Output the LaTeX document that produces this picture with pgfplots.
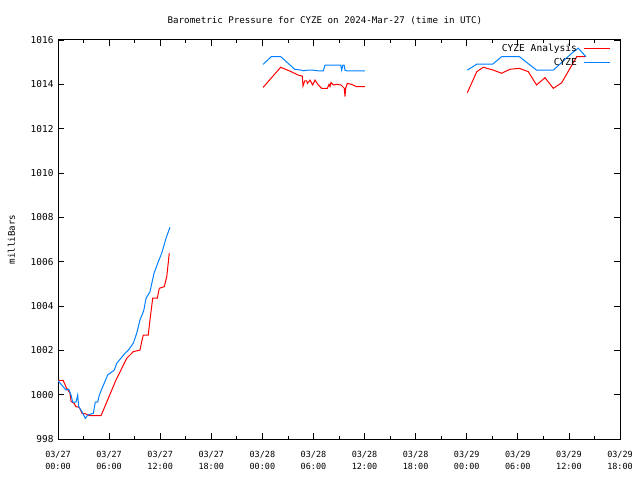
\documentclass[border=0pt]{standalone}
\usepackage{pgfplots}
\pgfplotsset{compat=1.18}
\usepackage{pgfplotstable}
\usepackage{fontspec}
\setmainfont{DejaVu Sans Mono}
\definecolor{anared}{RGB}{255,0,0}
\definecolor{obsblue}{RGB}{0,128,255}

\pgfplotstableread{
h v
0 1000.65
0.6 1000.65
1.0 1000.3
1.41 1000.07
1.53 999.7
1.91 999.6
2.11 999.46
2.50 999.43
2.82 999.16
3.29 999.13
3.68 999.05
5.05 999.05
6.81 1000.66
8.07 1001.64
8.84 1001.94
9.63 1002.01
9.83 1002.39
10.02 1002.69
10.6 1002.69
10.8 1003.37
10.95 1003.82
11.12 1004.35
11.66 1004.35
11.9 1004.8
12.48 1004.87
12.77 1005.32
13.07 1006.38
18 nan
24.08 1013.86
26.15 1014.77
27.39 1014.57
28.18 1014.42
28.69 1014.37
28.77 1013.92
28.97 1014.16
29.2 1014.16
29.28 1014.04
29.6 1014.19
29.91 1013.97
30.18 1014.19
30.57 1013.97
30.97 1013.82
31.63 1013.82
31.83 1014.0
31.94 1013.9
32.06 1014.08
32.33 1013.97
32.73 1014.0
33.24 1013.97
33.62 1013.82
33.7 1013.45
33.78 1013.82
33.97 1014.04
34.49 1014.0
35.0 1013.9
36.05 1013.9
42 nan
48.07 1013.62
49.18 1014.57
49.95 1014.77
51.13 1014.64
52.1 1014.5
53.08 1014.68
54.18 1014.72
55.23 1014.57
56.2 1013.97
57.19 1014.3
58.17 1013.82
59.15 1014.07
60.13 1014.72
60.92 1015.25
62.0 1015.25
}\anatable

\pgfplotstableread{
h v
0 1000.63
0.94 1000.21
1.26 1000.25
1.53 999.98
1.73 999.66
2.11 999.66
2.31 999.98
2.43 999.46
2.82 999.23
3.21 998.93
3.49 999.08
4.15 999.16
4.38 999.66
4.66 999.66
4.85 999.98
5.25 1000.36
5.84 1000.89
6.61 1001.11
6.89 1001.41
7.87 1001.87
8.26 1002.01
8.84 1002.32
9.24 1002.77
9.63 1003.37
9.95 1003.67
10.1 1003.85
10.34 1004.35
10.8 1004.64
11.27 1005.47
11.78 1006.0
12.18 1006.38
12.68 1007.05
13.15 1007.55
18 nan
24.08 1014.90
25.05 1015.25
26.15 1015.25
27.8 1014.68
28.6 1014.64
28.8 1014.61
29.3 1014.64
29.95 1014.64
30.5 1014.61
31.16 1014.61
31.36 1014.87
33.2 1014.87
33.32 1014.64
33.45 1014.87
33.6 1014.87
33.7 1014.64
33.9 1014.61
36.05 1014.61
42 nan
48.07 1014.64
49.18 1014.91
51.05 1014.91
52.1 1015.25
54.18 1015.25
56.2 1014.64
58.17 1014.64
60.33 1015.4
61.1 1015.63
62.0 1015.25
}\obstable

\begin{document}
\begin{tikzpicture}
\path[use as bounding box] (-58bp,-41bp) rectangle (582bp,439bp);
\begin{axis}[
  at={(0,0)}, anchor=south west,
  scale only axis,
  width=562bp, height=399bp,
  xmin=0, xmax=66, ymin=998, ymax=1016,
  xtick={0,6,...,66},
  xticklabels={{03/27\\00:00},{03/27\\06:00},{03/27\\12:00},{03/27\\18:00},{03/28\\00:00},{03/28\\06:00},{03/28\\12:00},{03/28\\18:00},{03/29\\00:00},{03/29\\06:00},{03/29\\12:00},{03/29\\18:00}},
  xticklabel style={align=center, font=\fontsize{8.5}{12}\selectfont, yshift=-9bp},
  ytick={998,1000,...,1016},
  yticklabel style={font=\fontsize{9.5}{10}\selectfont, xshift=-1bp},
  /pgf/number format/assume math mode=true,
  /pgf/number format/1000 sep={},
  minor x tick num=1,
  tick align=inside,
  major tick length=6bp,
  minor tick length=3bp,
  tick style={black, line width=0.8bp},
  axis line style={black, line width=1bp},
  title={Barometric Pressure for CYZE on 2024-Mar-27 (time in UTC)},
  title style={font=\fontsize{9.2}{10}\selectfont, at={(axis description cs:0.475,1.0325)}, anchor=center},
  ylabel={milliBars},
  ylabel style={font=\fontsize{9.2}{10}\selectfont, at={(axis description cs:-0.083,0.5)}, anchor=center},
  unbounded coords=jump,
  legend style={at={(1,1)}, anchor=north east, xshift=-8bp, yshift=-1bp,
    draw=none, fill=none, font=\fontsize{9.6}{10}\selectfont,
    legend cell align=right, row sep=1.5bp, column sep=5bp, inner sep=1bp},
  legend plot pos=right,
]
\addplot[anared, line width=1bp, mark=none,
  legend image code/.code={\draw[anared, line width=1bp] (0bp,0bp) -- (26bp,0bp);}] table[x=h, y=v] {\anatable};
\addlegendentry{CYZE Analysis}
\addplot[obsblue, line width=1bp, mark=none,
  legend image code/.code={\draw[obsblue, line width=1bp] (0bp,0bp) -- (26bp,0bp);}] table[x=h, y=v] {\obstable};
\addlegendentry{CYZE}
\end{axis}
\end{tikzpicture}
\end{document}
